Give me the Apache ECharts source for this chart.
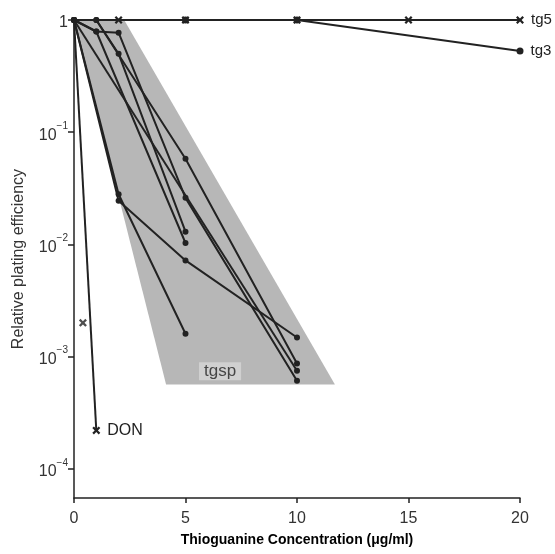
<!DOCTYPE html>
<html>
<head>
<meta charset="utf-8">
<script src="https://cdn.jsdelivr.net/npm/echarts@6/dist/echarts.min.js"></script>
<style>
    html, body { margin: 0; background: #fff; }
    #chart { width: 555px; height: 554px; }
</style>
</head>
<body>
<div id="chart"></div>
<script>
// x ticks (ug/ml) and y range (log)
const xTicks = [0, 5, 10, 15, 20];
const yMin = 5.5e-5;
const yMax = 1;

// tgsp family, each curve [conc, relative plating efficiency]
const tgspA = [[0, 1], [2, 0.028], [5, 0.0016]];
const tgspB = [[0, 1], [2, 0.0245], [5, 0.0072], [10, 0.00148]];
const tgspC = [[0, 1], [1, 1], [5, 0.058], [10, 0.00087]];
const tgspD = [[0, 1], [1, 0.79], [5, 0.0103]];
const tgspE = [[0, 1], [1, 0.79], [2, 0.77], [5, 0.026], [10, 0.00061]];
const tgspF = [[0, 1], [1, 1], [2, 0.5], [5, 0.013]];
const tgspG = [[0, 1], [10, 0.00075]];

// shaded tgsp envelope
const shadeX = [0, 2.25, 11.7, 4.13];
const shadeY = [1, 1, 5.66e-4, 5.66e-4];

const tg5 = [[0, 1], [2, 1], [5, 1], [10, 1], [15, 1], [20, 1]];
const tg3 = [[0, 1], [5, 1], [10, 1], [20, 0.53]];
const don = [[0, 1], [1, 2.2e-4]];
const donExtra = [[0.4, 0.002]];
const tgspLabelAt = [6.55, 7.4e-4];

const ink = '#222';
const cross = 'path://M0,2L2,0L5,3L8,0L10,2L7,5L10,8L8,10L5,7L2,10L0,8L3,5Z';
const font = '"Liberation Sans", Arial, Helvetica, sans-serif';

const dotLine = (data) => ({
    type: 'line',
    data,
    symbol: 'circle',
    symbolSize: 6,
    lineStyle: {color: ink, width: 2},
    itemStyle: {color: ink},
    z: 3,
});

// first point of the flat curves has no marker, last one carries the name
const namedLine = (data, symbol, name, size) => ({
    type: 'line',
    data: data.map((p, i) => {
        const item = {value: p};
        if (i === 0) item.symbol = 'none';
        if (i === data.length - 1) {
            item.label = {
                show: true, formatter: name, position: 'right', distance: 7,
                color: ink, fontSize: size, fontFamily: font,
            };
        }
        return item;
    }),
    symbol,
    symbolSize: symbol === 'circle' ? 7 : 8,
    lineStyle: {color: ink, width: 2},
    itemStyle: {color: ink},
    z: 4,
});

const supLabel = (v) => {
    const lg = Math.log10(v);
    const e = Math.round(lg);
    if (Math.abs(lg - e) > 0.01) return '';
    if (e === 0) return '{b|1}';
    return '{b|10}{s|−' + (-e) + '}';
};

const chart = echarts.init(document.getElementById('chart'), null, {renderer: 'canvas'});
chart.setOption({
    animation: false,
    backgroundColor: '#fff',
    grid: {left: 74, right: 35, top: 20, bottom: 56},
    xAxis: {
        type: 'value',
        min: xTicks[0],
        max: xTicks[xTicks.length - 1],
        interval: 5,
        name: 'Thioguanine Concentration (μg/ml)',
        nameLocation: 'middle',
        nameGap: 35,
        nameTextStyle: {color: '#000', fontSize: 14, fontWeight: 'bold', fontFamily: font},
        axisLine: {lineStyle: {color: ink, width: 1.5}},
        axisTick: {length: 5, lineStyle: {color: ink, width: 1.5}},
        axisLabel: {color: '#333', fontSize: 16, margin: 13, fontFamily: font},
        splitLine: {show: false},
    },
    yAxis: {
        type: 'log',
        logBase: 10,
        min: yMin,
        max: yMax,
        name: 'Relative plating efficiency',
        nameLocation: 'middle',
        nameGap: 47,
        nameTextStyle: {color: '#333', fontSize: 16, fontFamily: font},
        axisLine: {lineStyle: {color: ink, width: 1.5}},
        axisTick: {length: 6, lineStyle: {color: ink, width: 1.5}},
        axisLabel: {
            showMinLabel: false,
            margin: 6,
            formatter: supLabel,
            rich: {
                b: {color: '#333', fontSize: 16, fontFamily: font, lineHeight: 22, verticalAlign: 'bottom'},
                s: {color: '#333', fontSize: 10, fontFamily: font, lineHeight: 10, verticalAlign: 'top'},
            },
        },
        splitLine: {show: false},
    },
    series: [
        {
            type: 'custom',
            silent: true,
            z: 1,
            data: [[shadeX[0], shadeY[0]]],
            renderItem: (params, api) => ({
                type: 'polygon',
                shape: {points: shadeX.map((x, i) => api.coord([x, shadeY[i]]))},
                style: {fill: '#b7b7b7'},
            }),
        },
        dotLine(tgspA),
        dotLine(tgspB),
        dotLine(tgspC),
        dotLine(tgspD),
        dotLine(tgspE),
        dotLine(tgspF),
        dotLine(tgspG),
        namedLine(tg3, 'circle', 'tg3', 15),
        namedLine(tg5, cross, 'tg5', 15),
        namedLine(don, cross, 'DON', 16),
        {
            type: 'scatter',
            data: donExtra,
            symbol: cross,
            symbolSize: 8,
            itemStyle: {color: ink},
            z: 4,
        },
        {
            type: 'scatter',
            data: [tgspLabelAt],
            symbolSize: 0,
            z: 5,
            label: {
                show: true, formatter: 'tgsp', position: 'inside',
                color: '#222', fontSize: 17, fontFamily: font,
                backgroundColor: '#d6d6d6', padding: [0, 5, 1, 5],
            },
        },
    ],
});
</script>
</body>
</html>
